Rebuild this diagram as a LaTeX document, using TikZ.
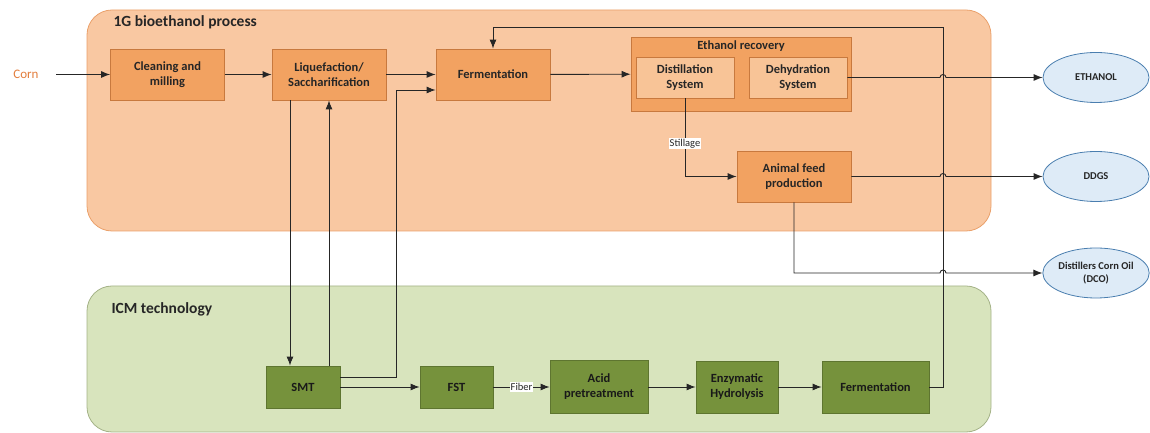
\documentclass[tikz,border=0pt]{standalone}
\usepackage{fontspec}
\setmainfont{Carlito}
\usepackage{tikz}
\usetikzlibrary{arrows.meta,shapes.geometric}
\definecolor{regorange}{HTML}{F9C8A2}
\definecolor{regorangeline}{HTML}{EAA06A}
\definecolor{boxorange}{HTML}{F2A261}
\definecolor{boxorangeline}{HTML}{C8793E}
\definecolor{subfill}{HTML}{F8C497}
\definecolor{reggreen}{HTML}{D8E4BD}
\definecolor{reggreenline}{HTML}{A4B287}
\definecolor{boxgreen}{HTML}{76923C}
\definecolor{boxgreenline}{HTML}{5E7530}
\definecolor{prodfill}{HTML}{DEEBF7}
\definecolor{prodline}{HTML}{4A7EAF}
\definecolor{cornorange}{HTML}{E27D3C}
\tikzstyle{box} = [draw=boxorangeline,fill=boxorange,line width=0.8pt,minimum width=114pt,minimum height=51pt,inner sep=1pt,align=center,text=black!85,font=\fontsize{12.5}{15}\selectfont\bfseries]
\tikzstyle{sub} = [box,fill=subfill,minimum width=98pt,minimum height=41pt]
\tikzstyle{gbox} = [box,draw=boxgreenline,fill=boxgreen,text=black!90]
\tikzstyle{prod} = [ellipse,draw=prodline,fill=prodfill,line width=0.8pt,minimum width=106pt,minimum height=50pt,inner sep=0pt,align=center,text=black!85,font=\fontsize{10.5}{13}\selectfont\bfseries]
\tikzstyle{region} = [rounded corners=25pt,line width=0.8pt]
\tikzstyle{title} = [anchor=west,text=black!85,font=\fontsize{15.5}{18}\selectfont\bfseries]
\tikzstyle{flow} = [draw=black!85,line width=0.9pt,-{Latex[length=9pt,width=7pt]}]
\tikzstyle{tag} = [fill=white,inner sep=1pt,text=black!85,font=\fontsize{10.5}{12}\selectfont]

\begin{document}
\begin{tikzpicture}[x=1pt,y=1pt]
    \useasboundingbox (0,0) rectangle (1150,433);

    \draw[region,draw=regorangeline,fill=regorange] (87,202) rectangle (991,423);
    \draw[region,draw=reggreenline,fill=reggreen] (87,1) rectangle (991,147);
    \node[title] (t1) at (110,411) {1G bioethanol process};
    \node[title] (t2) at (108,124) {ICM technology};

    \node[text=cornorange,font=\fontsize{13}{15}\selectfont] (corn) at (26,358.5) {Corn};
    \node[box] (clean) at (167.5,358.5) {Cleaning and\\milling};
    \node[box] (liq) at (329,358.5) {Liquefaction/\\Saccharification};
    \node[box] (ferm) at (493,358.5) {Fermentation};
    \node[box,minimum width=220pt,minimum height=74pt] (recov) at (741,359) {};
    \node[text=black!85,font=\fontsize{12.5}{15}\selectfont\bfseries] (recovtitle) at (741,387) {Ethanol recovery};
    \node[sub] (dist) at (685,355.5) {Distillation\\System};
    \node[sub] (dehyd) at (798,355.5) {Dehydration\\System};
    \node[box] (feed) at (794,256.5) {Animal feed\\production};

    \node[prod] (ethanol) at (1096,355.5) {ETHANOL};
    \node[prod] (ddgs) at (1096,256.5) {DDGS};
    \node[prod] (dco) at (1096,160) {Distillers Corn Oil\\(DCO)};

    \node[gbox,minimum width=74pt,minimum height=42pt] (smt) at (303,46) {SMT};
    \node[gbox,minimum width=73pt,minimum height=42pt] (fst) at (456.5,46) {FST};
    \node[gbox,minimum width=98pt,minimum height=53pt] (acid) at (599,46) {Acid\\pretreatment};
    \node[gbox,minimum width=82pt,minimum height=52pt] (enz) at (737,46) {Enzymatic\\Hydrolysis};
    \node[gbox,minimum width=107pt,minimum height=52pt] (ferm2) at (875.5,46) {Fermentation};

    \coordinate (j1) at (396,343);
    \coordinate (j2) at (943,406);

    \draw[flow,shorten <=14pt] (corn) -- (clean);
    \draw[flow] (clean) -- (liq);
    \draw[flow] (liq) -- (ferm);
    \draw[flow] (ferm) -- (recov);
    \draw[flow] ([xshift=-39pt]liq.south) -- ([xshift=-39pt]liq.south |- smt.north);
    \draw[flow] ([xshift=26pt]smt.north) -- ([xshift=26pt]smt.north |- liq.south);
    \draw[flow] ([yshift=10pt]smt.east) -- ([yshift=10pt]smt.east -| j1) -- (j1) -- (j1 -| ferm.west);
    \draw[flow] (smt) -- (fst);
    \draw[flow] (fst) -- node[tag] {Fiber} (acid);
    \draw[flow] (acid) -- (enz);
    \draw[flow] (enz) -- (ferm2);
    \draw[flow] (ferm2.east) -| (j2) -| (ferm.north);
    \draw[flow] (dist.south) |- node[tag,pos=0.29] {Stillage} (feed.west);
    \draw[flow] (dehyd.east) -- ([xshift=-3pt]dehyd.east -| j2) arc (180:0:3) -- (ethanol.west);
    \draw[flow] (feed.east) -- ([xshift=-3pt]feed.east -| j2) arc (180:0:3) -- (ddgs.west);
    \draw[flow] (feed.south) |- ([xshift=-3pt]dco.west -| j2) arc (180:0:3) -- (dco.west);

\end{tikzpicture}
\end{document}
